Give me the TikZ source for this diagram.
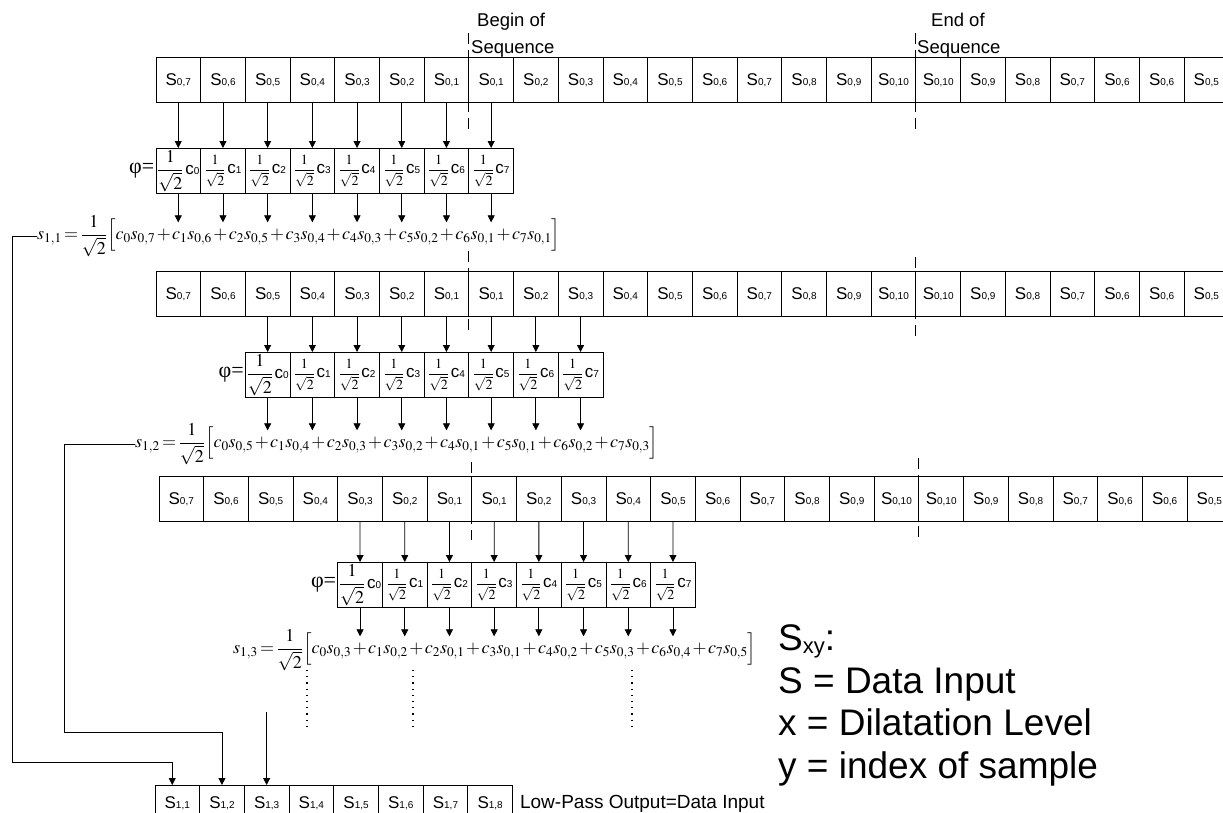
\documentclass[tikz,border=0pt]{standalone}
\usepackage{mathptmx}
\usepackage{fontspec}
\setmainfont{Liberation Sans}
\newfontfamily\phifont{Liberation Serif}
\usetikzlibrary{arrows.meta,positioning}

% sample label S_{x,y}
\newcommand\slab[1]{{\fontsize{17}{17}\selectfont S}{\fontsize{10}{10}\selectfont #1}}
% filter coefficient box text
\newcommand\wcoef[2]{{\fontsize{#1}{#1}\selectfont$\displaystyle\frac{1}{\sqrt{2}}$}\,{\fontsize{17}{17}\selectfont c}{\fontsize{10}{10}\selectfont #2}}
% tighter spacing in the sums
\newcommand\tightsum{\medmuskip=1.5mu\relax\thickmuskip=2.5mu\relax}

\tikzset{
  cell/.style={draw, line width=0.8pt, minimum width=44.7pt, minimum height=45pt, inner sep=0pt, anchor=north west},
  coefbox/.style={cell, minimum height=45pt},
  coeftext/.style={inner sep=0pt},
  flow/.style={-{Triangle[width=7pt,length=7pt]}, line width=0.8pt},
  seqmark/.style={line width=0.8pt, dash pattern=on 11pt off 6pt},
  eqn/.style={anchor=west, inner sep=0pt, font=\fontsize{18}{18}\selectfont\tightsum},
  note/.style={anchor=base west, inner sep=0pt, font=\fontsize{18.5}{20}\selectfont},
  legend/.style={anchor=base west, inner sep=0pt, font=\fontsize{37}{40}\selectfont},
  phisign/.style={inner sep=1pt, font=\phifont\fontsize{22}{22}\selectfont},
}

\begin{document}
\begin{tikzpicture}[x=1pt,y=-1pt]
	\useasboundingbox (0,0) rectangle (1223,812);
	\clip (0,0) rectangle (1223,812);

	%data rows
	\foreach \v [count=\i from 0] in {7,6,5,4,3,2,1,1,2,3,4,5,6,7,8,9,10,10,9,8,7,6,6,5}{
		\node[cell] (a\i) at (155.5+\i*44.7,57)  {\slab{0,\v}};
		\node[cell] (b\i) at (155.5+\i*44.7,271) {\slab{0,\v}};
		\node[cell] (c\i) at (158.5+\i*44.7,476) {\slab{0,\v}};
	}

	%begin / end of sequence
	\node[note] (bgn) at (477,26) {Begin of};
	\node[note] (bgs) at (471,53) {Sequence};
	\node[note] (edn) at (931,26) {End of};
	\node[note] (eds) at (917,53) {Sequence};
	\draw[seqmark] ([yshift=24pt]a7.north west)  -- ([yshift=-26pt]a7.south west);
	\draw[seqmark] ([yshift=24pt]a17.north west) -- ([yshift=-26pt]a17.south west);
	\draw[seqmark] ([yshift=20pt]b7.north west)  -- ([yshift=-14pt]b7.south west);
	\draw[seqmark] ([yshift=14pt]b17.north west) -- ([yshift=-20pt]b17.south west);
	\draw[seqmark] ([yshift=14pt]c7.north west)  -- ([yshift=-18pt]c7.south west);
	\draw[seqmark] ([yshift=18pt]c17.north west) -- ([yshift=-18pt]c17.south west);

	%coefficient boxes
	\foreach \k in {0,...,7}{
		\node[coefbox] (p\k) at (155.5+\k*44.7,148) {};
		\node[coefbox] (q\k) at (244.9+\k*44.7,352) {};
		\node[coefbox] (r\k) at (337.3+\k*44.7,562) {};
		\node[coeftext] (pt\k) at (p\k) {\ifnum\k=0 \wcoef{18}{\k}\else\wcoef{14}{\k}\fi};
		\node[coeftext] (qt\k) at (q\k) {\ifnum\k=0 \wcoef{18}{\k}\else\wcoef{14}{\k}\fi};
		\node[coeftext] (rt\k) at (r\k) {\ifnum\k=0 \wcoef{18}{\k}\else\wcoef{14}{\k}\fi};
	}
	\node[phisign, left=0pt of p0] (phia) {φ=};
	\node[phisign, left=0pt of q0] (phib) {φ=};
	\node[phisign, left=0pt of r0] (phic) {φ=};

	%low-pass sums
	\node[eqn] (eqa) at (37,236)
		{$s_{1,1}=\displaystyle\frac{1}{\sqrt{2}}\Bigl[c_0s_{0,7}+c_1s_{0,6}+c_2s_{0,5}+c_3s_{0,4}+c_4s_{0,3}+c_5s_{0,2}+c_6s_{0,1}+c_7s_{0,1}\Bigr]$};
	\node[eqn] (eqb) at (135,444)
		{$s_{1,2}=\displaystyle\frac{1}{\sqrt{2}}\Bigl[c_0s_{0,5}+c_1s_{0,4}+c_2s_{0,3}+c_3s_{0,2}+c_4s_{0,1}+c_5s_{0,1}+c_6s_{0,2}+c_7s_{0,3}\Bigr]$};
	\node[eqn] (eqc) at (233,650)
		{$s_{1,3}=\displaystyle\frac{1}{\sqrt{2}}\Bigl[c_0s_{0,3}+c_1s_{0,2}+c_2s_{0,1}+c_3s_{0,1}+c_4s_{0,2}+c_5s_{0,3}+c_6s_{0,4}+c_7s_{0,5}\Bigr]$};
	\coordinate (topa) at ([yshift=-7pt]eqa.north);
	\coordinate (topb) at ([yshift=-7pt]eqb.north);
	\coordinate (topc) at ([yshift=-7pt]eqc.north);

	%arrows
	\foreach \k [evaluate=\k as \j using int(\k+2), evaluate=\k as \m using int(\k+4)] in {0,...,7}{
		\draw[flow] (a\k.south) -- (p\k.north);
		\draw[flow] (p\k.south) -- (p\k.south |- topa);
		\draw[flow] (b\j.south) -- (q\k.north);
		\draw[flow] (q\k.south) -- (q\k.south |- topb);
		\draw[flow] (c\m.south) -- (r\k.north);
		\draw[flow] (r\k.south) -- (r\k.south |- topc);
	}

	%continuation dots
	\draw[line width=1.2pt, dash pattern=on 1.2pt off 5pt] (307,670) -- (307,726);
	\draw[line width=1.2pt, dash pattern=on 1.2pt off 5pt] (413,670) -- (413,726);
	\draw[line width=1.2pt, dash pattern=on 1.2pt off 5pt] (632,670) -- (632,726);

	%output row
	\foreach \v [count=\i from 0] in {1,...,8}
		\node[cell, minimum height=36pt] (s\i) at (154.5+\i*44.7,785) {\slab{1,\v}};
	\node[anchor=west, inner sep=0pt, font=\fontsize{19}{20}\selectfont, right=7pt of s7] (out) {Low-Pass Output=Data Input};

	\coordinate (ka) at (12,762);
	\coordinate (kb) at (64,732);
	\coordinate (kc) at (266,712);
	\draw[flow] (eqa.west) -| (ka) -| ([xshift=-5pt]s0.north);
	\draw[flow] (eqb.west) -| (kb) -| (s1.north);
	\draw[flow] (s2.north |- kc) -- (s2.north);

	%legend
	\node[legend] (lga) at (778,650) {S{\fontsize{22}{22}\selectfont\raisebox{-3pt}{xy}}:};
	\node[legend] (lgb) at (778,693) {S = Data Input};
	\node[legend] (lgc) at (778,735) {x = Dilatation Level};
	\node[legend] (lgd) at (778,778) {y = index of sample};
\end{tikzpicture}
\end{document}
